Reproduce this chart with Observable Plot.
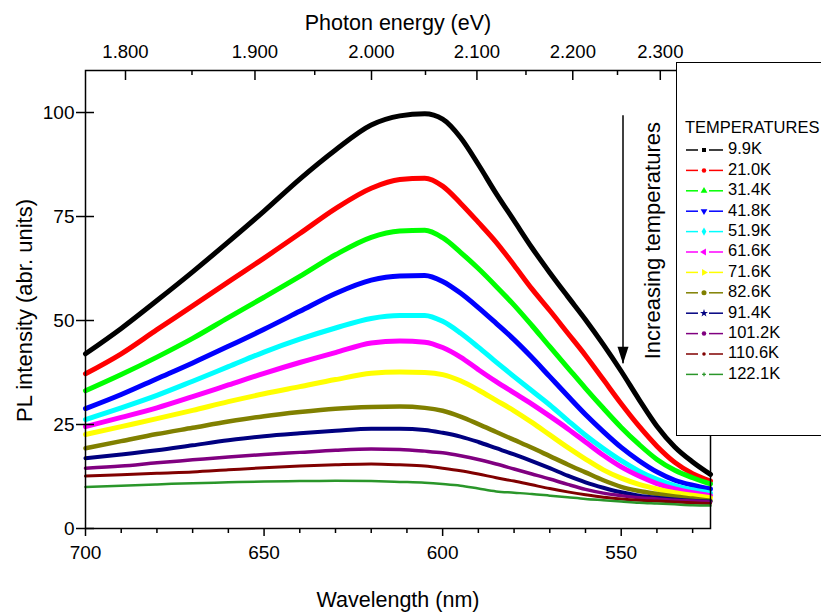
<!DOCTYPE html>
<html><head><meta charset="utf-8">
<script src="https://cdn.jsdelivr.net/npm/d3@7"></script>
<script src="https://cdn.jsdelivr.net/npm/@observablehq/plot@0.6"></script>
<style>
html,body{margin:0;padding:0;background:#fff;overflow:hidden;}
#wrap{position:relative;width:821px;height:612px;overflow:hidden;font-family:"Liberation Sans",Arial,sans-serif;}
#legend{position:absolute;left:676px;top:62px;width:170px;height:374px;border:1.5px solid #000;background:#fff;box-sizing:border-box;}
</style></head><body><div id="wrap"></div>
<script>
// ---- data ----
const wavelengths = [700, 690, 680, 670, 660, 650, 640, 630, 620, 612, 605, 600, 595, 590, 585, 580, 575, 570, 565, 560, 555, 550, 545, 540, 535, 530, 525];
const temperatures = ["9.9K","21.0K","31.4K","41.8K","51.9K","61.6K","71.6K","82.6K","91.4K","101.2K","110.6K","122.1K"];
const k9_9   = [42, 48.1, 54.8, 61.7, 68.9, 76.3, 84, 91, 97, 99.2, 99.7, 98.4, 94, 87.5, 80.5, 74, 67.5, 61.5, 55.8, 50.2, 44.2, 37.8, 31, 24.6, 19.6, 16, 13];
const k21_0  = [37.2, 42, 47.8, 53.5, 59.3, 65, 70.9, 76.9, 81.8, 83.9, 84.2, 82.3, 78.2, 73.6, 68.8, 63.3, 57.6, 52.4, 47, 41.6, 35.8, 30, 24.6, 19.8, 15.9, 13.2, 11.4];
const k31_4  = [33.1, 37, 41.2, 45.7, 50.7, 55.6, 60.6, 65.8, 70, 71.5, 71.7, 69.9, 66.4, 62.5, 58.2, 53.7, 48.8, 43.7, 38.7, 33.7, 28.9, 24.3, 20.2, 16.6, 14, 12.2, 10.7];
const k41_8  = [28.8, 32.2, 36, 39.8, 43.8, 47.9, 52.2, 56.5, 59.7, 60.7, 60.8, 59.4, 56.6, 53.1, 49.3, 45.4, 41.1, 36.5, 31.9, 27.4, 23.3, 19.5, 16.3, 13.6, 11.6, 10.4, 9.5];
const k51_9  = [26.2, 29, 32, 35.4, 38.9, 42.4, 45.5, 48.2, 50.5, 51.2, 51.2, 49.8, 47, 43.6, 40, 36.5, 33.1, 29.7, 26, 22.4, 19.2, 16.3, 13.8, 11.8, 10.3, 9.3, 8.5];
const k61_6  = [24.5, 26.7, 29, 31.7, 34.5, 37.3, 39.9, 42.3, 44.6, 45.1, 44.8, 43.5, 41.2, 38.2, 35.3, 32.6, 29.9, 27, 24, 20.8, 17.6, 14.8, 12.6, 10.8, 9.5, 8.6, 7.9];
const k71_6  = [22.6, 24.5, 26.4, 28.4, 30.5, 32.4, 34.1, 35.8, 37.3, 37.6, 37.5, 37, 35.5, 33.3, 30.8, 28.3, 25.5, 22.5, 19.5, 16.7, 14.1, 12.1, 10.6, 9.5, 8.6, 8, 7.4];
const k82_6  = [19.3, 21, 22.7, 24.2, 25.7, 27, 28, 28.8, 29.2, 29.3, 29, 28.3, 26.9, 25.1, 23.2, 21.3, 19.4, 17.4, 15.4, 13.5, 11.6, 10, 9, 8.3, 7.7, 7.2, 6.7];
const k91_4  = [16.9, 17.8, 18.8, 20, 21.2, 22.2, 22.9, 23.5, 24, 24, 23.7, 23, 22.1, 20.8, 19.3, 17.8, 16.2, 14.5, 12.7, 11.1, 9.8, 8.7, 7.9, 7.4, 7, 6.7, 6.5];
const k101_2 = [14.5, 15, 15.8, 16.5, 17.2, 17.8, 18.3, 18.8, 19.1, 19, 18.6, 18.2, 17.5, 16.6, 15.5, 14.3, 13.1, 11.9, 10.6, 9.4, 8.5, 7.9, 7.4, 7.1, 6.8, 6.6, 6.4];
const k110_6 = [12.6, 12.9, 13.3, 13.6, 14.1, 14.6, 15, 15.3, 15.5, 15.3, 15, 14.5, 13.9, 13.1, 12.2, 11.4, 10.5, 9.6, 8.8, 8.1, 7.5, 7.1, 6.8, 6.6, 6.4, 6.2, 6];
const k122_1 = [10, 10.3, 10.6, 10.9, 11.1, 11.3, 11.4, 11.5, 11.4, 11.2, 11, 10.7, 10.3, 9.6, 8.9, 8.6, 8.3, 7.9, 7.5, 7.1, 6.8, 6.5, 6.2, 6, 5.8, 5.6, 5.5];
const xMajorTicks = [700, 650, 600, 550];
const xMinorTicks = [690, 680, 670, 660, 640, 630, 620, 610, 590, 580, 570, 560, 540, 530];
const yTicks = [0, 25, 50, 75, 100];
const energyMajorTicks = [1.8, 1.9, 2.0, 2.1, 2.2, 2.3];
const energyMinorTicks = [1.85, 1.95, 2.05, 2.15, 2.25, 2.35];
const arrowNote = {wl: 549.5, from: 99.2, to: 39.6};
const textNote = {wl: 541, v: 69.2, text: "Increasing temperatures"};

// ---- styles ----
const colors = ["#000000","#ff0000","#00ff00","#0000ff","#00ffff","#ff00ff","#ffff00","#808000","#000080","#800080","#800000","#2a962a"];
const widths = [5,5,5,5,5,5,5,4.5,4,3.5,3,2.5];
const series = [k9_9,k21_0,k31_4,k41_8,k51_9,k61_6,k71_6,k82_6,k91_4,k101_2,k110_6,k122_1];
const hc = 1239.84;
const font = "'Liberation Sans', Arial, sans-serif";

const lines = series.map((vals, i) => Plot.line(
  wavelengths.map((w, j) => ({wl: w, v: vals[j]})),
  {x: "wl", y: "v", stroke: colors[i], strokeWidth: widths[i], curve: "monotone-x"}
));

const arrowHead = {draw(ctx) { ctx.moveTo(0, 0); ctx.lineTo(-5.5, -17); ctx.lineTo(5.5, -17); ctx.closePath(); }};

const chart = Plot.plot({
  width: 821, height: 612,
  marginLeft: 85, marginRight: 111, marginTop: 70, marginBottom: 84,
  x: {domain: [700, 525]},
  y: {domain: [0, 110.1]},
  style: {fontFamily: font, background: "white", color: "black"},
  marks: [
    ...lines,
    Plot.frame({stroke: "black", strokeWidth: 1.5}),
    Plot.axisX(xMajorTicks, {tickSize: 8, tickPadding: 9, fontSize: 19, label: null, strokeWidth: 1.5}),
    Plot.axisX(xMinorTicks, {tickSize: 5, tickFormat: () => "", label: null, strokeWidth: 1.5}),
    Plot.axisY(yTicks, {tickSize: 9, tickPadding: 2, fontSize: 19, label: null, strokeWidth: 1.5}),
    Plot.tickY(yTicks, {y: d => d, insetRight: 616, strokeWidth: 1.5}),
    Plot.axisX(energyMajorTicks.map(e => hc / e), {anchor: "top", tickSize: 0, tickPadding: 13, fontSize: 18.5, tickFormat: d => (hc / d).toFixed(3), label: null}),
    Plot.tickX(energyMajorTicks.map(e => hc / e), {x: d => d, insetBottom: 448, strokeWidth: 1.5}),
    Plot.tickX(energyMinorTicks.map(e => hc / e), {x: d => d, insetBottom: 453, strokeWidth: 1.5}),
    Plot.ruleX([arrowNote], {x: "wl", y1: "from", y2: "to", strokeWidth: 1.5}),
    Plot.dot([arrowNote], {x: "wl", y: "to", symbol: arrowHead, fill: "black", stroke: "none"}),
    Plot.text([textNote], {x: "wl", y: "v", text: "text", rotate: -90, fontSize: 22, fill: "black"}),
    Plot.text(["Photon energy (eV)"], {text: d => d, frameAnchor: "top", textAnchor: "middle", lineAnchor: "middle", dy: -47, fontSize: 21.5, fill: "black"}),
    Plot.text(["Wavelength (nm)"], {text: d => d, frameAnchor: "bottom", textAnchor: "middle", lineAnchor: "bottom", dy: 78, fontSize: 21.5, fill: "black"}),
    Plot.text(["PL intensity (abr. units)"], {text: d => d, frameAnchor: "left", textAnchor: "middle", lineAnchor: "middle", dx: -61, dy: 11, rotate: -90, fontSize: 22, fill: "black"})
  ]
});
const wrap = document.getElementById("wrap");
wrap.appendChild(chart);

// ---- legend ----
const leg = d3.select(wrap).append("div").attr("id", "legend");
const svg = leg.append("svg").attr("width", 170).attr("height", 372).style("display", "block");
svg.append("text").attr("x", 8).attr("y", 66).attr("dominant-baseline", "middle")
  .style("font-family", font).style("font-size", "16.5px").text("TEMPERATURES");
const syms = [
  [d3.symbolSquare, 16, 0], [d3.symbolCircle, 16, 0], [d3.symbolTriangle, 20, 0], [d3.symbolTriangle, 20, 180],
  [d3.symbolDiamond, 20, 0], [d3.symbolTriangle, 20, -90], [d3.symbolTriangle, 20, 90], [d3.symbolCircle, 20, 0],
  [d3.symbolStar, 20, 0], [d3.symbolCircle, 16, 0], [d3.symbolCircle, 10, 0], [d3.symbolCross, 8, 0]
];
temperatures.forEach((t, i) => {
  const g = svg.append("g").attr("transform", `translate(0,${87 + 20.4 * i})`);
  g.append("line").attr("x1", 9).attr("x2", 21).attr("y1", 0).attr("y2", 0).attr("stroke", colors[i]).attr("stroke-width", 1.5);
  g.append("line").attr("x1", 32).attr("x2", 46).attr("y1", 0).attr("y2", 0).attr("stroke", colors[i]).attr("stroke-width", 1.5);
  g.append("path").attr("d", d3.symbol(syms[i][0], syms[i][1])()).attr("fill", colors[i])
    .attr("transform", `translate(27,0) rotate(${syms[i][2]})`);
  g.append("text").attr("x", 51).attr("y", 0).attr("dominant-baseline", "middle")
    .style("font-family", font).style("font-size", "16.5px").text(t);
});
</script></body></html>
